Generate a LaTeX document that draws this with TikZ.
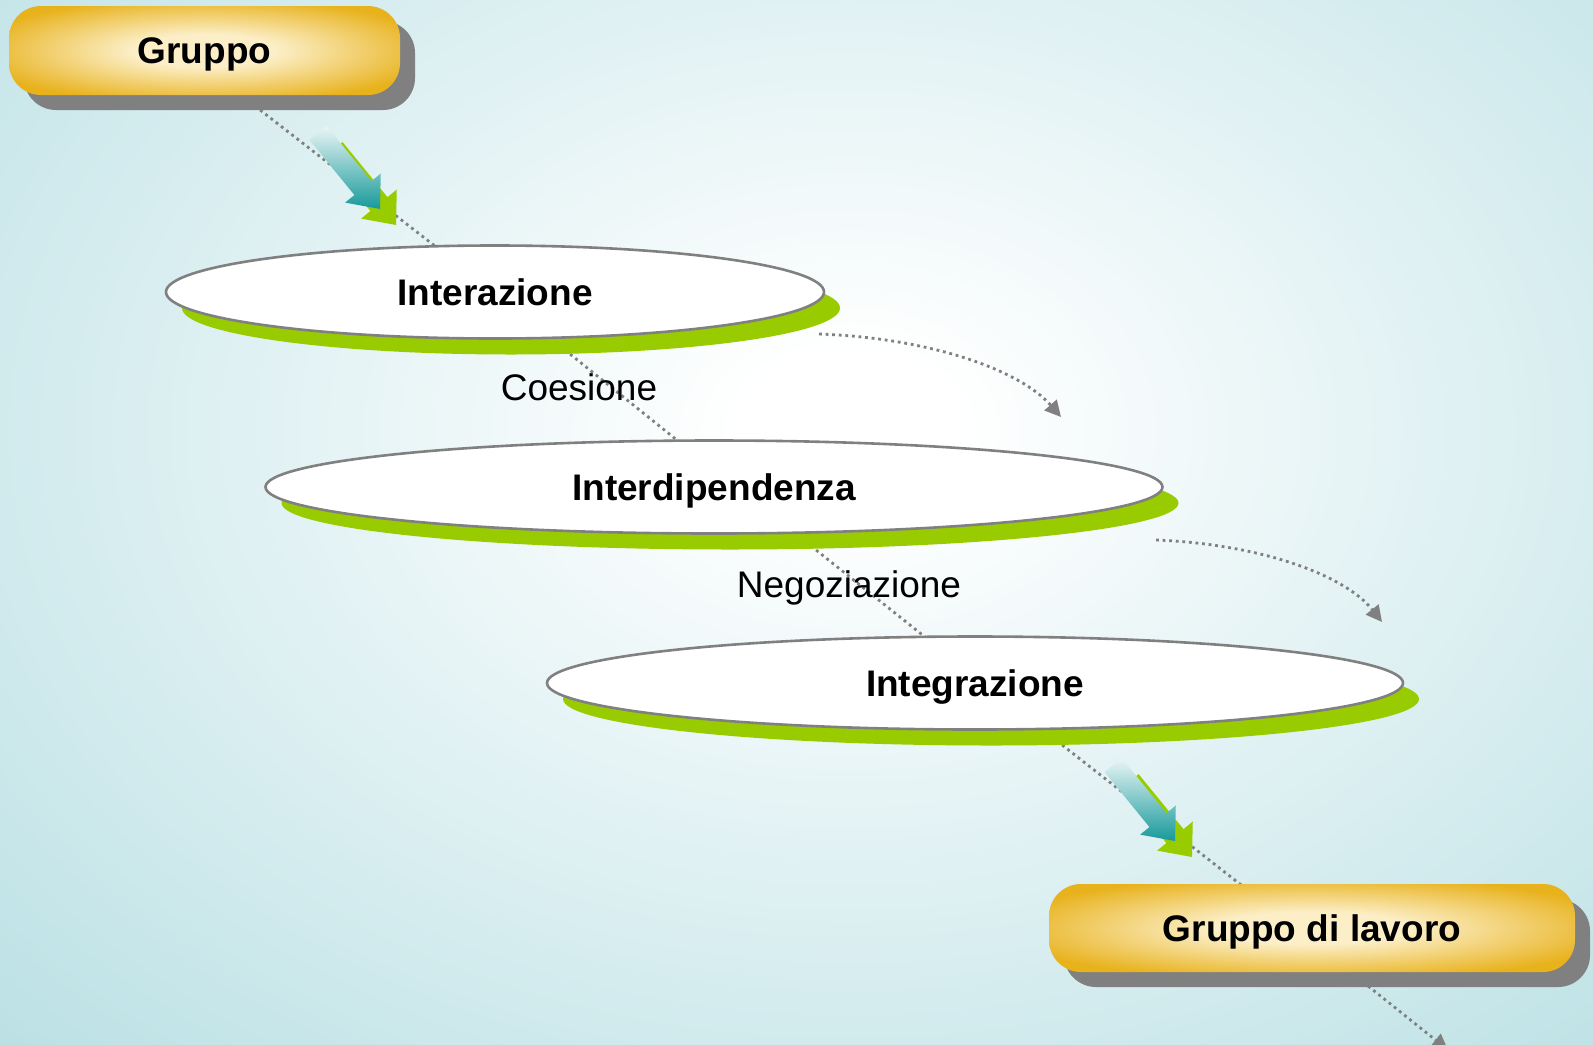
\documentclass[tikz,border=0pt]{standalone}
\usepackage{fontspec}
\setmainfont{Liberation Sans}
\usetikzlibrary{shapes.geometric, arrows.meta, shadows}
\definecolor{bgteal}{HTML}{BCE1E5}
\definecolor{goldedge}{HTML}{E8B21C}
\definecolor{goldcore}{HTML}{FCEFC8}
\definecolor{limegreen}{HTML}{99CC00}
\definecolor{arrowteal}{HTML}{17999A}
\definecolor{arrowpale}{HTML}{EAF5F6}
\definecolor{linegray}{HTML}{808080}
\pgfdeclareradialshading{backdrop}{\pgfpoint{0bp}{0bp}}{color(0bp)=(white); color(3bp)=(white); color(33bp)=(bgteal); color(50bp)=(bgteal)}
\pgfdeclareradialshading{goldglow}{\pgfpoint{0bp}{0bp}}{color(0bp)=(goldcore); color(9bp)=(goldcore); color(30bp)=(goldedge); color(50bp)=(goldedge)}

% block arrow: tip position, fill options
\newcommand{\blockarrow}[2]{%
  \begin{scope}[shift={#1}, rotate=-50.8]
    \path[#2] (0,0) -- (-27,23) -- (-27,11) -- (-98,11) -- (-98,-11) -- (-27,-11) -- (-27,-23) -- cycle;
  \end{scope}}

\begin{document}
\begin{tikzpicture}[
  x=0.5pt, y=-0.5pt,
  every node/.style={font=\fontsize{18.5}{22}\selectfont, text height=13.2pt, text depth=0pt},
  stage/.style={ellipse, draw=linegray, line width=1.3pt, fill=white, inner sep=0pt,
    minimum height=46.5pt, font=\fontsize{18.5}{22}\selectfont\bfseries,
    drop shadow={shadow xshift=8pt, shadow yshift=-8pt, fill=limegreen, opacity=1}},
  pill/.style={rectangle, rounded corners=16pt, shade, shading=goldglow,
    inner sep=0pt, font=\fontsize{18.5}{22}\selectfont\bfseries,
    drop shadow={shadow xshift=7.5pt, shadow yshift=-7.5pt, fill=linegray, opacity=1}},
  link/.style={linegray, line width=1.4pt, dash pattern=on 1.4pt off 1.9pt},
  tip/.style={-{Triangle[length=8pt, width=8pt]}}
]
% backdrop
\clip (0,0) rectangle (1593,1044);
\fill[bgteal] (0,0) rectangle (1593,1044);
\shade[shading=backdrop] (-50,-220) rectangle (1750,1080);

% connector ends
\coordinate (g1) at (255,106);  \coordinate (g2) at (440,250);
\coordinate (c1) at (565,350);  \coordinate (c2) at (683,445);
\coordinate (n1) at (811,546);  \coordinate (n2) at (930,641);
\coordinate (i1) at (1057,741); \coordinate (i2) at (1245,888);
\coordinate (l1) at (1363,982); \coordinate (l2) at (1448,1050);
\coordinate (s1) at (819,334);  \coordinate (s2) at (1061,417);
\coordinate (t1) at (1156,540); \coordinate (t2) at (1382,622);

\draw[link] (g1) -- (g2);
\draw[link] (c1) -- (c2);
\draw[link] (n1) -- (n2);
\draw[link] (i1) -- (i2);
\draw[link, tip] (l1) -- (l2);
\draw[link, tip] (s1) .. controls (930,338) and (1020,370) .. (s2);
\draw[link, tip] (t1) .. controls (1260,544) and (1345,575) .. (t2);

% block arrows
\blockarrow{(396,225)}{fill=limegreen}
\blockarrow{(380,209)}{top color=arrowpale, bottom color=arrowteal}
\blockarrow{(1192,857)}{fill=limegreen}
\blockarrow{(1175,841)}{top color=arrowpale, bottom color=arrowteal}

% nodes
\node[pill, minimum width=195.5pt, minimum height=44.5pt] (gruppo) at (204.5,50.5) {Gruppo};
\node[stage, minimum width=329pt] (interazione) at (495,292) {Interazione};
\node[stage, minimum width=448.5pt] (interdipendenza) at (714,487) {Interdipendenza};
\node[stage, minimum width=428pt] (integrazione) at (975,683) {Integrazione};
\node[pill, minimum width=263pt, minimum height=44pt] (lavoro) at (1312,928) {Gruppo di lavoro};
\node (coesione) at (579,387) {Coesione};
\node (negoziazione) at (849,584) {Negoziazione};
\end{tikzpicture}
\end{document}
